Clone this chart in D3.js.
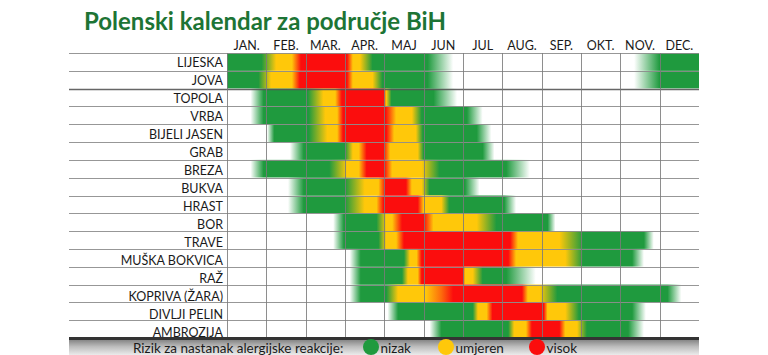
<!DOCTYPE html>
<html>
<head>
<meta charset="utf-8">
<script src="https://cdn.jsdelivr.net/npm/d3@7"></script>
<style>
  html, body { margin: 0; padding: 0; background: #fff; }
  svg { display: block; }
  text { font-family: Lato, "Open Sans", sans-serif; }
</style>
</head>
<body>
<svg id="chart" width="768" height="355"></svg>
<script>
// ---------- data ----------
const title = "Polenski kalendar za područje BiH";
const months = ["JAN.", "FEB.", "MAR.", "APR.", "MAJ", "JUN", "JUL", "AUG.", "SEP.", "OKT.", "NOV.", "DEC."];
const plants = ["LIJESKA", "JOVA", "TOPOLA", "VRBA", "BIJELI JASEN", "GRAB", "BREZA", "BUKVA", "HRAST",
  "BOR", "TRAVE", "MUŠKA BOKVICA", "RAŽ", "KOPRIVA (ŽARA)", "DIVLJI PELIN", "AMBROZIJA"];
const legendLabel = "Rizik za nastanak alergijske reakcije:";
const riskNames = ["nizak", "umjeren", "visok"];
const riskLevels = [1, 2, 3];

// risk profile per plant: [month position (0..12), risk level 0=none 1=nizak 2=umjeren 3=visok]
const lijeska = [[0,1],[0.88,1],[1.25,2],[1.65,2],[1.88,3],[3.05,3],[3.2,2],[3.38,2],[3.7,1],[5.1,1],[5.75,0],[10.35,0],[11.0,1],[12,1]];
const jova = [[0,1],[0.8,1],[1.12,2],[1.65,2],[1.85,3],[3.05,3],[3.2,2],[3.7,2],[3.95,1],[5.1,1],[5.75,0],[10.35,0],[11.0,1],[12,1]];
const topola = [[0,0],[0.6,0],[0.93,1],[2.05,1],[2.45,2],[2.75,2],[2.92,3],[3.98,3],[4.05,2],[4.18,1],[5.25,1],[5.85,0],[12,0]];
const vrba = [[0,0],[0.6,0],[0.93,1],[2.08,1],[2.5,2],[2.8,2],[2.95,3],[4.03,3],[4.3,2],[4.7,2],[4.95,1],[6.1,1],[6.5,0],[12,0]];
const bijeliJasen = [[0,0],[1.02,0],[1.2,1],[2.08,1],[2.55,2],[2.8,2],[2.95,3],[4.05,3],[4.25,2],[4.8,2],[4.98,1],[6.35,1],[6.72,0],[12,0]];
const grab = [[0,0],[1.6,0],[1.95,1],[3.0,1],[3.2,2],[3.35,2],[3.55,3],[3.98,3],[4.15,2],[4.85,2],[5.0,1],[6.5,1],[6.8,0],[12,0]];
const breza = [[0,0],[0.6,0],[0.93,1],[2.6,1],[3.05,2],[3.35,2],[3.55,3],[4.0,3],[4.2,2],[4.95,2],[5.4,1],[7.1,1],[7.7,0],[12,0]];
const bukva = [[0,0],[1.55,0],[1.95,1],[3.0,1],[3.5,2],[3.85,2],[4.03,3],[4.55,3],[4.7,2],[4.95,2],[5.15,1],[6.05,1],[6.42,0],[12,0]];
const hrast = [[0,0],[1.55,0],[1.95,1],[3.0,1],[3.5,2],[3.8,2],[3.98,3],[4.85,3],[5.0,2],[5.45,2],[5.65,1],[7.05,1],[7.35,0],[12,0]];
const bor = [[0,0],[2.7,0],[2.97,1],[3.8,1],[4.05,2],[4.2,2],[4.45,3],[5.0,3],[5.25,2],[6.35,2],[6.85,1],[8.15,1],[8.35,0],[12,0]];
const trave = [[0,0],[2.7,0],[2.97,1],[3.85,1],[4.05,2],[4.3,2],[4.5,3],[7.2,3],[7.4,2],[8.45,2],[9.05,1],[10.6,1],[10.85,0],[12,0]];
const muskaBokvica = [[0,0],[3.12,0],[3.4,1],[4.5,1],[4.65,2],[4.82,2],[4.95,3],[7.15,3],[7.35,2],[8.6,2],[9.05,1],[10.3,1],[10.6,0],[12,0]];
const raz = [[0,0],[3.12,0],[3.4,1],[4.45,1],[4.6,2],[4.85,2],[4.95,3],[6.0,3],[6.05,2],[6.25,2],[6.5,1],[7.1,1],[7.85,0],[12,0]];
const kopriva = [[0,0],[3.12,0],[3.4,1],[4.05,1],[4.35,2],[5.05,2],[5.45,2.5],[5.75,3],[7.5,3],[7.65,2],[7.95,2],[8.4,1],[11.2,1],[11.55,0],[12,0]];
const divljiPelin = [[0,0],[4.08,0],[4.35,1],[6.25,1],[6.38,2],[6.6,2],[6.75,3],[8.05,3],[8.15,2],[8.6,2],[8.95,1],[10.3,1],[10.65,0],[12,0]];
const ambrozija = [[0,0],[5.15,0],[5.45,1],[7.15,1],[7.3,2],[7.6,2],[7.75,3],[8.45,3],[8.6,2],[8.9,2],[9.15,1],[10.2,1],[10.6,0],[12,0]];

const profiles = [lijeska, jova, topola, vrba, bijeliJasen, grab, breza, bukva, hrast,
  bor, trave, muskaBokvica, raz, kopriva, divljiPelin, ambrozija];

// ---------- drawing ----------
const GREEN = "#1f9a3e", YELLOW = "#ffc80a", RED = "#fb0d0d";
const color = d3.scaleLinear().domain([0, 1, 2, 3]).range(["#ffffff", GREEN, YELLOW, RED]).interpolate(d3.interpolateRgb);

const svg = d3.select("#chart");
const labelLeft = 69;
const x = d3.scaleLinear().domain([0, 12]).range([227, 699]);
const y = d3.scaleBand().domain(plants).range([53, 338]).paddingInner(0).paddingOuter(0);
const labelY = d3.scalePoint().domain(plants).range([67, 336.5]);

const defs = svg.append("defs");

// row gradients
profiles.forEach((prof, i) => {
  const g = defs.append("linearGradient")
    .attr("id", "row" + i)
    .attr("gradientUnits", "userSpaceOnUse")
    .attr("x1", x(0)).attr("x2", x(12)).attr("y1", 0).attr("y2", 0);
  g.selectAll("stop").data(prof).join("stop")
    .attr("offset", d => (d[0] / 12))
    .attr("stop-color", d => color(d[1]));
});

// legend band gradient
const bandGrad = defs.append("linearGradient").attr("id", "band")
  .attr("x1", 0).attr("x2", 0).attr("y1", 0).attr("y2", 1);
bandGrad.append("stop").attr("offset", 0).attr("stop-color", "#828282");
bandGrad.append("stop").attr("offset", 0.45).attr("stop-color", "#bdbdbd");
bandGrad.append("stop").attr("offset", 1).attr("stop-color", "#eeeeee");

// title
svg.append("text")
  .attr("x", 84).attr("y", 29.5)
  .attr("font-size", 24).attr("font-weight", 700)
  .attr("fill", "#1d7435")
  .text(title);

// month labels
svg.append("g").selectAll("text").data(months).join("text")
  .attr("x", (d, i) => x(i + 0.5))
  .attr("y", 49.5)
  .attr("text-anchor", "middle")
  .attr("font-size", 12.5)
  .attr("fill", "#1a1a1a")
  .text(d => d);

// colored rows
svg.append("g").selectAll("rect").data(plants).join("rect")
  .attr("x", x(0))
  .attr("y", d => y(d))
  .attr("width", x(12) - x(0))
  .attr("height", y.bandwidth())
  .attr("fill", (d, i) => `url(#row${i})`);

// row labels
svg.append("g").selectAll("text").data(plants).join("text")
  .attr("x", 223)
  .attr("y", d => labelY(d))
  .attr("text-anchor", "end")
  .attr("font-size", 12.5)
  .attr("fill", "#1a1a1a")
  .text(d => d);

// grid: horizontal
const hLines = d3.range(plants.length);
svg.append("g").selectAll("line").data(hLines).join("line")
  .attr("x1", labelLeft).attr("x2", x(12))
  .attr("y1", i => Math.round(53 + i * y.step()) + 0.5)
  .attr("y2", i => Math.round(53 + i * y.step()) + 0.5)
  .attr("stroke", i => i === 2 ? "#555" : "#8c8c8c")
  .attr("stroke-width", i => i === 2 ? 1.6 : 1)
  .attr("stroke-opacity", 0.9);

// grid: vertical
svg.append("g").selectAll("line").data(d3.range(12)).join("line")
  .attr("x1", m => Math.round(x(m)) + 0.5).attr("x2", m => Math.round(x(m)) + 0.5)
  .attr("y1", 53).attr("y2", 338)
  .attr("stroke", "#7a7a7a")
  .attr("stroke-width", 1)
  .attr("stroke-opacity", 0.85);

// bottom legend band
svg.append("rect")
  .attr("x", labelLeft).attr("y", 339.5)
  .attr("width", x(12) - labelLeft).attr("height", 16)
  .attr("fill", "url(#band)");
svg.append("line")
  .attr("x1", labelLeft).attr("x2", x(12))
  .attr("y1", 338.5).attr("y2", 338.5)
  .attr("stroke", "#333").attr("stroke-width", 3);

svg.append("text")
  .attr("x", 133).attr("y", 352.5)
  .attr("font-size", 13.5)
  .attr("fill", "#1a1a1a")
  .text(legendLabel);

const legendX = [371, 446, 537];
const lg = svg.append("g").selectAll("g").data(riskLevels).join("g")
  .attr("transform", (d, i) => `translate(${legendX[i]},347)`);
lg.append("circle").attr("r", 8).attr("fill", d => color(d));
lg.append("text")
  .attr("x", 9.5).attr("y", 5.5)
  .attr("font-size", 13.5)
  .attr("fill", "#1a1a1a")
  .text((d, i) => riskNames[i]);
</script>
</body>
</html>
